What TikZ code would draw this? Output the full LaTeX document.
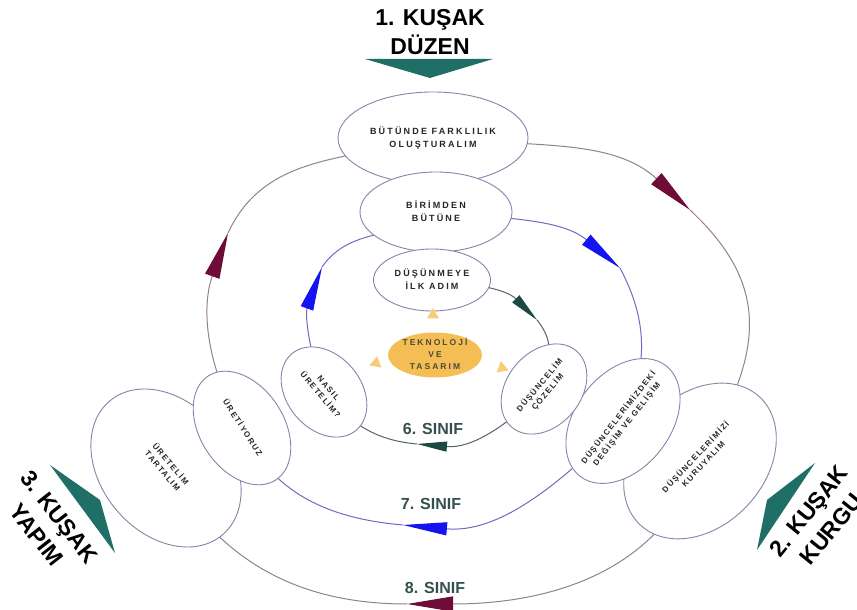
\documentclass[tikz,border=0pt]{standalone}
\usepackage{fontspec}
\setmainfont{Liberation Sans}
\newfontfamily\bubblefont[LetterSpace=24]{Liberation Sans}
\newfontfamily\smallbubblefont[LetterSpace=18]{Liberation Sans}
\usetikzlibrary{arrows.meta,shapes.geometric,backgrounds}

\definecolor{bubbleline}{HTML}{8585A8}
\definecolor{ringsix}{HTML}{56646A}
\definecolor{ringseven}{HTML}{6C6CC2}
\definecolor{ringeight}{HTML}{957F93}
\definecolor{tipsix}{HTML}{1C4A42}
\definecolor{tipseven}{HTML}{1414F0}
\definecolor{tipeight}{HTML}{6E0D38}
\definecolor{kusakteal}{HTML}{1F6F67}
\definecolor{sinifgray}{HTML}{34504E}
\definecolor{techorange}{HTML}{F4BE55}
\definecolor{techtri}{HTML}{F7CD7A}
\definecolor{techtext}{HTML}{4B4A3A}

\newcommand{\bubbletext}[1]{\makebox[0pt]{\raisebox{-.25em}[0pt][0pt]{\begin{tabular}{@{}c@{}}#1\end{tabular}}}}

\begin{document}
\begin{tikzpicture}[x=1pt,y=1pt,
    bubble/.style={ellipse,draw=bubbleline,fill=white,line width=.9pt,inner sep=0pt,
                   font=\bubblefont\bfseries\fontsize{9}{13}\selectfont,text=black!85},
    small bubble/.style={bubble,font=\smallbubblefont\bfseries\fontsize{8}{10.5}\selectfont},
    ring six/.style={draw=ringsix,line width=1pt},
    ring seven/.style={draw=ringseven,line width=1pt},
    ring eight/.style={draw=ringeight,line width=1pt},
    tip six/.style={-{Triangle[length=30pt,width=10pt,color=tipsix]}},
    tip seven/.style={-{Triangle[length=44pt,width=13pt,color=tipseven]}},
    tip eight/.style={-{Triangle[length=46pt,width=15pt,color=tipeight]}},
    sinif/.style={font=\bfseries\fontsize{16}{18}\selectfont,text=sinifgray,inner sep=0pt},
    kusak/.style={font=\bfseries\fontsize{23}{29}\selectfont,align=center,inner sep=0pt},
    tech tri/.style={regular polygon,regular polygon sides=3,fill=techtri,inner sep=0pt,minimum size=14pt}]
  \useasboundingbox (0,0) rectangle (857,610);

  \node[small bubble,minimum width=175pt,minimum height=130pt,rotate=-50] (tartalim) at (166,142) {\bubbletext{ÜRETELİM\\TARTALIM}};
  \node[small bubble,minimum width=175pt,minimum height=130pt,rotate=47] (kuruyalim) at (700,149) {\bubbletext{DÜŞÜNCELERİMİZİ\\KURUYALIM}};
  \node[bubble,minimum width=190pt,minimum height=92pt] (butunde) at (433,472) {\bubbletext{BÜTÜNDE FARKLILIK\\OLUŞTURALIM}};
  \node[small bubble,minimum width=124pt,minimum height=84pt,rotate=-57] (uretiyoruz) at (242,182) {\bubbletext{ÜRETİYORUZ}};
  \node[small bubble,minimum width=140pt,minimum height=95pt,rotate=52] (degisim) at (623,189) {\bubbletext{DÜŞÜNCELERİMİZDEKİ\\DEĞİŞİM VE GELİŞİM}};
  \node[bubble,minimum width=152pt,minimum height=80pt] (birimden) at (436,398) {\bubbletext{BİRİMDEN\\BÜTÜNE}};
  \node[small bubble,minimum width=100pt,minimum height=74pt,rotate=-50] (nasil) at (324,218) {\bubbletext{NASIL\\ÜRETELİM?}};
  \node[small bubble,minimum width=100pt,minimum height=74pt,rotate=50] (cozelim) at (544,221) {\bubbletext{DÜŞÜNCELİM\\ÇÖZELİM}};
  \node[bubble,minimum width=117pt,minimum height=62pt] (dusunmeye) at (432,330) {\bubbletext{DÜŞÜNMEYE\\İLK ADIM}};
  \node[bubble,draw=none,fill=techorange,text=techtext,minimum width=94pt,minimum height=45pt,
        font=\bubblefont\bfseries\fontsize{8.5}{12}\selectfont] (teknoloji) at (435,255) {\bubbletext{TEKNOLOJİ\\VE\\TASARIM}};

  \node[tech tri] (triup) at (433,295) {};
  \node[tech tri,rotate=110] (trileft) at (376,247) {};
  \node[tech tri,rotate=-110] (triright) at (502,242) {};

  \coordinate (a6) at (537,290);
  \coordinate (b6) at (417,166);
  \coordinate (a7l) at (322,343);
  \coordinate (a7r) at (620,342);
  \coordinate (b7) at (403,85);
  \coordinate (a8l) at (228,377);
  \coordinate (a8r) at (690,400);
  \coordinate (b8) at (407,6);

  \begin{scope}[on background layer]
    \fill[white] (0,0) rectangle (857,610);
    \draw[ring six,tip six] (dusunmeye.center) to[out=-5,in=135] (a6);
    \draw[ring six] (a6) to[out=-50,in=75] (cozelim.center);
    \draw[ring six,tip six] (cozelim.center) to[out=-135,in=-5] (b6);
    \draw[ring six] (b6) to[out=175,in=-50] (nasil.center);
    \draw[ring seven,tip seven] (nasil.center) to[out=110,in=-110] (a7l);
    \draw[ring seven] (a7l) to[out=55,in=215] (birimden.center);
    \draw[ring seven,tip seven] (birimden.center) to[out=-5,in=140] (a7r);
    \draw[ring seven] (a7r) to[out=-62,in=65] (degisim.center);
    \draw[ring seven,tip seven] (degisim.center) to[out=-135,in=-5] (b7);
    \draw[ring seven] (b7) to[out=175,in=-65] (uretiyoruz.center);
    \draw[ring eight,tip eight] (uretiyoruz.center) to[out=120,in=-110] (a8l);
    \draw[ring eight] (a8l) to[out=65,in=195] (butunde.center);
    \draw[ring eight,tip eight] (butunde.center) to[out=-5,in=137] (a8r);
    \draw[ring eight] (a8r) to[out=-43,in=60,looseness=1.2] (kuruyalim.center);
    \draw[ring eight,tip eight] (kuruyalim.center) to[out=-110,in=0] (b8);
    \draw[ring eight] (b8) to[out=180,in=-60] (tartalim.center);
  \end{scope}

  \node[sinif] (sinif6) at (433,181) {6. SINIF};
  \node[sinif] (sinif7) at (431,106) {7. SINIF};
  \node[sinif] (sinif8) at (435,22) {8. SINIF};

  \node[kusak] (kusak1) at (430,578) {1. KUŞAK\\DÜZEN};
  \node[kusak,rotate=-52] (kusak3) at (48,84) {3. KUŞAK\\YAPIM};
  \node[kusak,rotate=51] (kusak2) at (820,90) {2. KUŞAK\\KURGU};
  \fill[kusakteal] (365,551) -- (493,551) -- (430,532) -- cycle;
  \fill[kusakteal] (50,145) -- (100,110) -- (115,57) -- cycle;
  \fill[kusakteal] (815,147) -- (767,110) -- (757,60) -- cycle;
\end{tikzpicture}
\end{document}
